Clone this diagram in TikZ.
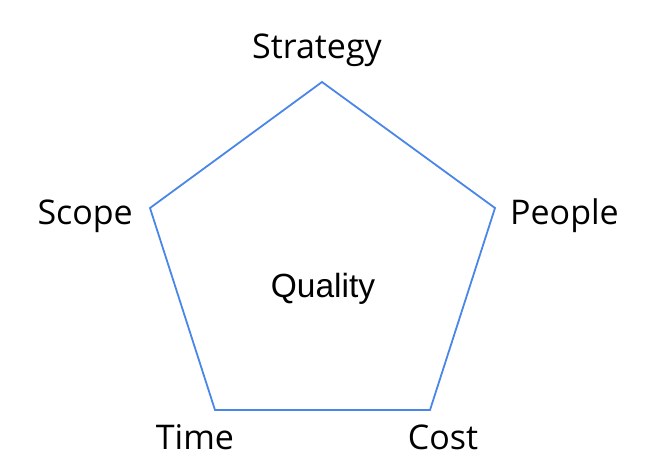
\documentclass[tikz,border=0pt]{standalone}
\usepackage{fontspec}
\setmainfont{Open Sans}
\newfontfamily\arialf{Liberation Sans}
\definecolor{pentblue}{HTML}{4A86E8}
\begin{document}
\begin{tikzpicture}[x=1pt,y=-1pt,
  lbl/.style={inner sep=0pt,font=\fontsize{34}{40}\selectfont},
  edge/.style={draw=pentblue,line width=1.8pt,line join=miter}]
\useasboundingbox (0,0) rectangle (658,476);
\coordinate (vt) at (322,82);
\coordinate (vl) at (150,208);
\coordinate (vr) at (495,208);
\coordinate (vbl) at (215,410);
\coordinate (vbr) at (430,410);
\draw[edge] (vt) -- (vr) -- (vbr) -- (vbl) -- (vl) -- cycle;
\node[lbl] (strategy) at (317,50) {Strategy};
\node[lbl,anchor=east] (scope) at (133,216) {Scope};
\node[lbl,anchor=west] (people) at (510,216) {People};
\node[lbl] (time) at (195,437) {Time};
\node[lbl] (cost) at (443,437) {Cost};
\node[lbl,font=\arialf\fontsize{33.5}{40}\selectfont] (quality) at (323,289) {Quality};
\end{tikzpicture}
\end{document}
